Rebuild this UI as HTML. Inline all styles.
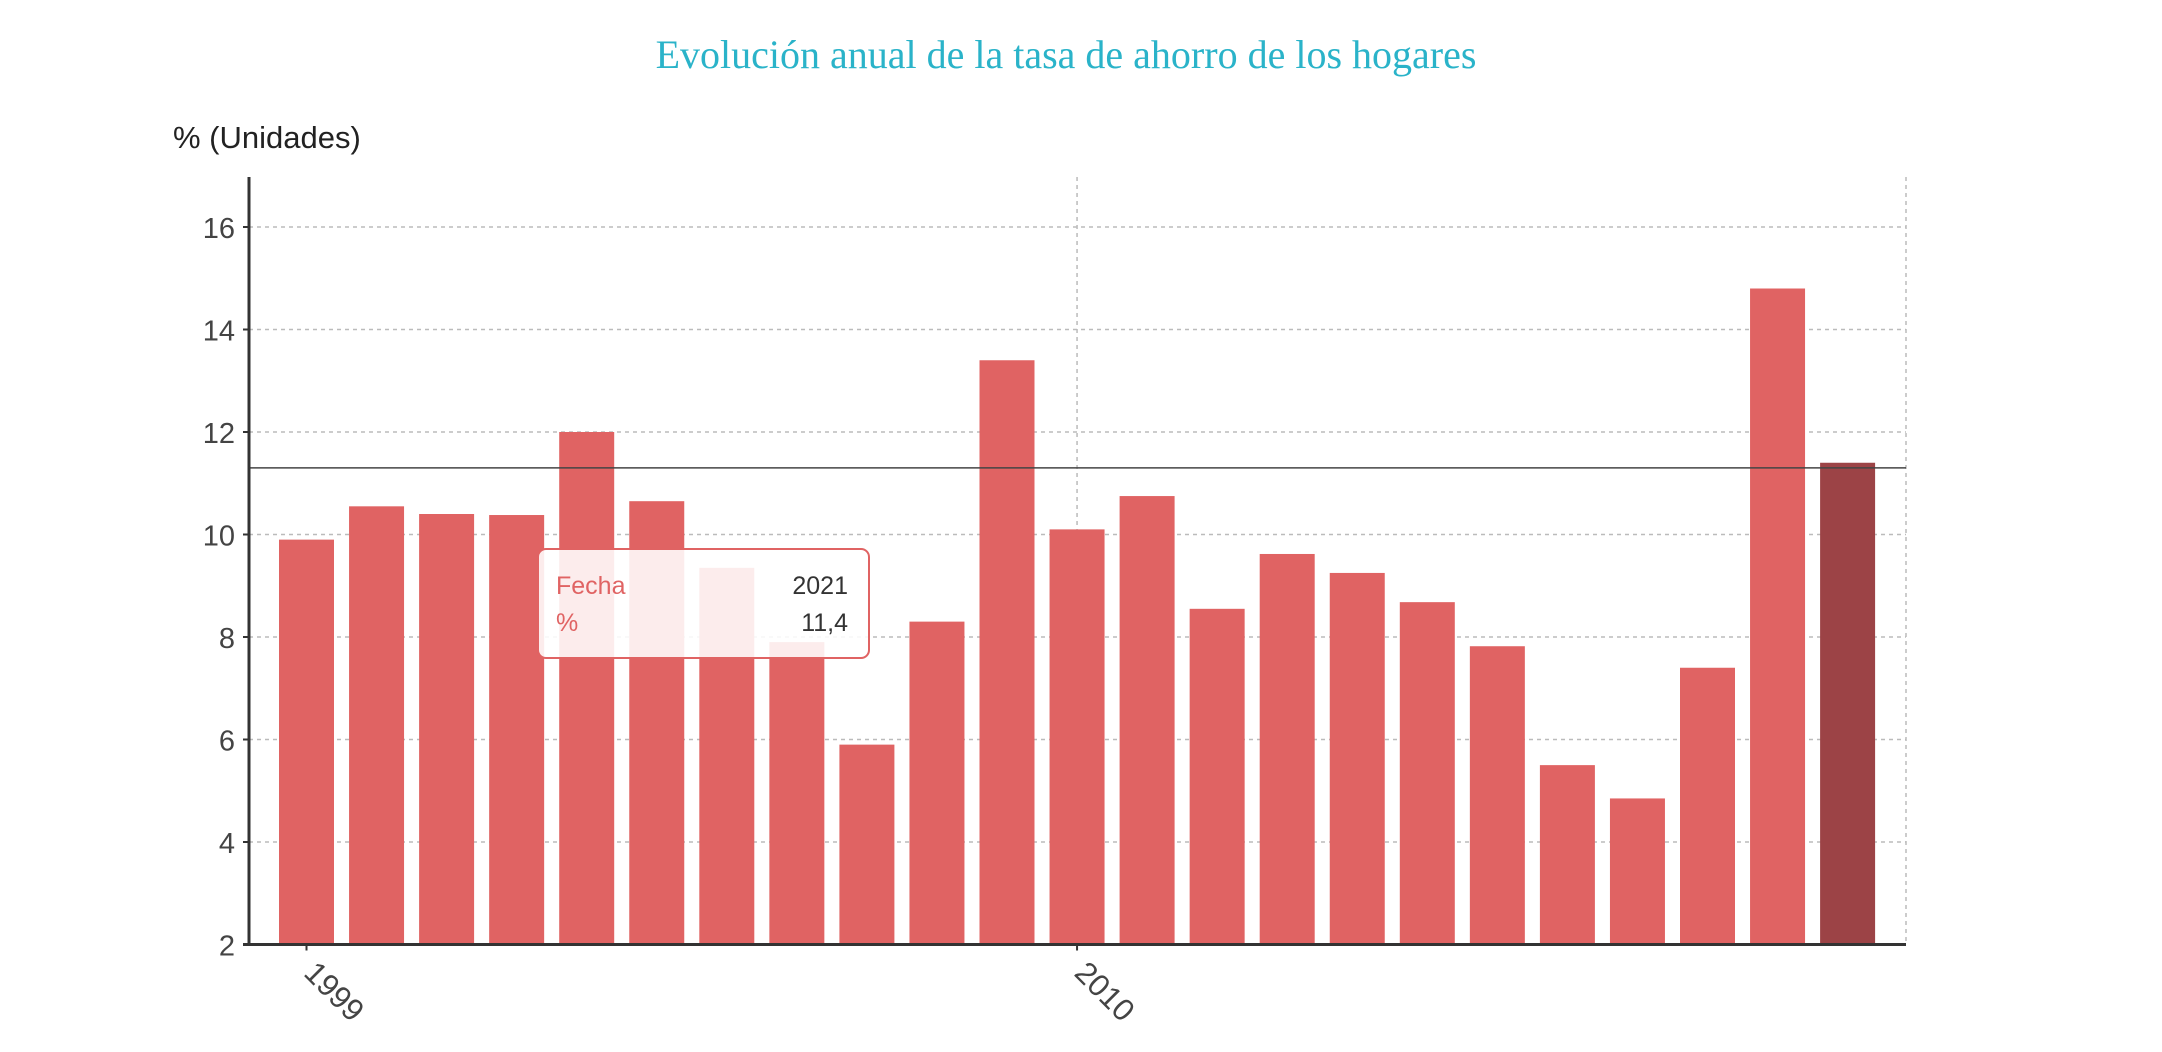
<!DOCTYPE html>
<html><head><meta charset="utf-8"><style>
html,body{margin:0;padding:0;background:#fff;width:2162px;height:1052px;overflow:hidden}
svg{display:block}
text{font-family:"Liberation Sans",sans-serif}
</style></head><body>
<svg id="chart" width="2162" height="1052">
<text x="1066" y="68" text-anchor="middle" style="font-family:'Liberation Serif',serif" font-size="40" fill="#2ab3c9">Evolución anual de la tasa de ahorro de los hogares</text>
<text x="173" y="148" font-size="31" fill="#222">% (Unidades)</text>
<g id="grid"></g><g id="bars"></g><g id="axes"></g>
</svg>
<script>
const years=[1999,2000,2001,2002,2003,2004,2005,2006,2007,2008,2009,2010,2011,2012,2013,2014,2015,2016,2017,2018,2019,2020,2021];
const values=[9.9,10.55,10.4,10.38,12.0,10.65,9.35,7.9,5.9,8.3,13.4,10.1,10.75,8.55,9.62,9.25,8.68,7.82,5.5,4.85,7.4,14.8,11.4];
const yTicks=[2,4,6,8,10,12,14,16];
const xTickLabels=[1999,2010];
const meanValue=11.3;
const NS='http://www.w3.org/2000/svg';
const L=249,R=1906,T=177,B=944.5;
const yMin=2,unit=51.25;
const y=v=>B-(v-yMin)*unit;
const step=70.05,bw=55,x0=306.5;
const x=i=>x0+i*step;
function mk(tag,attrs,parent){const e=document.createElementNS(NS,tag);for(const k in attrs)e.setAttribute(k,attrs[k]);parent.appendChild(e);return e;}
const grid=document.getElementById('grid'),bars=document.getElementById('bars'),axes=document.getElementById('axes');
yTicks.forEach(t=>{
 const g=mk('line',{x1:L,x2:R,y1:y(t),y2:y(t),stroke:'#bbb','stroke-width':1.5,'stroke-dasharray':'4,4'},grid);
 
 
 const tk=mk('line',{x1:L-6,x2:L,y1:y(t),y2:y(t),stroke:'#333','stroke-width':2},axes);
 
 
 const lb=mk('text',{x:L-14,y:y(t)+11,'text-anchor':'end','font-size':29,fill:'#444'},axes);
 lb.textContent=t;
 
 
});
xTickLabels.forEach(yr=>{
 const i=years.indexOf(yr),cx=x(i);
 if(yr!==years[0]){const v=mk('line',{x1:cx,x2:cx,y1:T,y2:B,stroke:'#bbb','stroke-width':1.5,'stroke-dasharray':'4,4'},grid);
 
 }
 const tk=mk('line',{x1:cx,x2:cx,y1:B,y2:B+6,stroke:'#333','stroke-width':2},axes);
 
 
 const lb=mk('text',{x:0,y:0,'font-size':31,fill:'#444',transform:`translate(${cx-4},${B+30}) rotate(45)`},axes);
 lb.textContent=yr;
 
 
});
const rg=mk('line',{x1:R,x2:R,y1:T,y2:B,stroke:'#bbb','stroke-width':1.5,'stroke-dasharray':'4,4'},grid);


values.forEach((v,i)=>{
 const last=i===values.length-1;
 const r=mk('rect',{x:x(i)-bw/2,y:y(v),width:bw,height:B-y(v),fill:last?'#9c4346':'#e06363'},bars);
 
 
});
const ml=mk('line',{x1:L,x2:R,y1:y(meanValue),y2:y(meanValue),stroke:'#444','stroke-width':1.5},axes);


const ya=mk('line',{x1:L,x2:L,y1:T,y2:B,stroke:'#333','stroke-width':3},axes);


const xa=mk('line',{x1:L-6,x2:R,y1:B,y2:B,stroke:'#333','stroke-width':3},axes);


const tt=mk('g',{},axes);


const tb=mk('rect',{x:538,y:549,width:331,height:109,rx:8,fill:'rgba(255,255,255,0.88)',stroke:'#e06363','stroke-width':2},tt);


const li=years.length-1;
[['Fecha',years[li],594],['%',String(values[li]).replace('.',','),631]].forEach(([k,v,yy])=>{
 const a=mk('text',{x:556,y:yy,'font-size':25,fill:'#e06363'},tt);a.textContent=k;
 
 
 const b=mk('text',{x:848,y:yy,'font-size':25,fill:'#333','text-anchor':'end'},tt);b.textContent=v;
 
 
});
</script>
</body></html>
